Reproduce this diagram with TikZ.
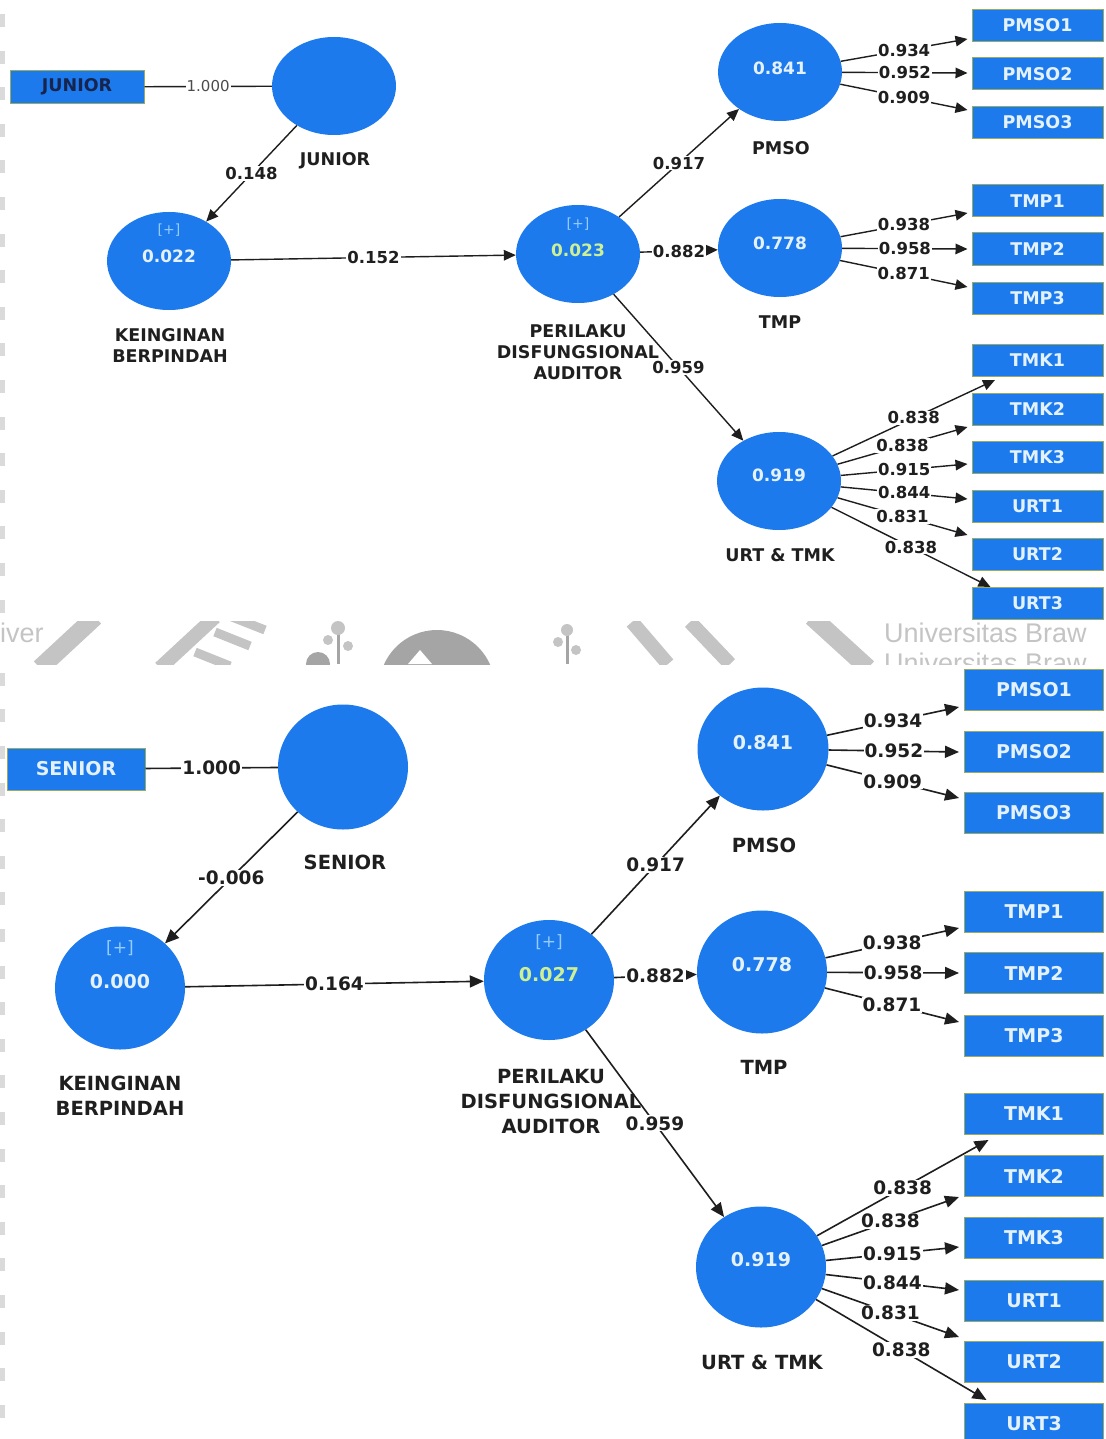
\documentclass[tikz,border=0pt]{standalone}
\usepackage{fontspec}
\setmainfont{DejaVu Sans}
\newfontfamily\wmfont{Liberation Sans}
\usetikzlibrary{shapes.geometric,arrows.meta,calc}

\definecolor{lvblue}{RGB}{28,122,236}
\definecolor{rimgreen}{RGB}{150,172,96}
\definecolor{valwhite}{RGB}{228,241,255}
\definecolor{pluscol}{RGB}{150,205,255}
\definecolor{rsqcol}{RGB}{205,240,150}
\definecolor{navytxt}{RGB}{22,36,78}
\definecolor{inkline}{RGB}{30,30,30}
\definecolor{wmgray}{RGB}{196,196,196}
\definecolor{wmdark}{RGB}{165,165,165}
\definecolor{edgemark}{RGB}{218,218,218}

\tikzset{
  lv/.style={ellipse, fill=lvblue, draw=none, inner sep=0pt},
  lvA/.style={lv, minimum width=124pt, minimum height=98pt},
  lvB/.style={lv, minimum width=130pt, minimum height=123pt},
  ind/.style={rectangle, fill=lvblue, draw=rimgreen, line width=1pt, inner sep=0pt, text=valwhite},
  indA/.style={ind, minimum width=131pt, minimum height=32pt, font=\fontsize{17.5}{17.5}\selectfont\bfseries},
  indB/.style={ind, minimum width=139pt, minimum height=41pt, font=\fontsize{19}{19}\selectfont\bfseries},
  captxt/.style={align=center, text=black!88, inner sep=0pt},
  capA/.style={captxt, font=\fontsize{17.5}{21}\selectfont\bfseries},
  capB/.style={captxt, font=\fontsize{19.5}{25}\selectfont\bfseries},
  link/.style={draw=inkline, line width=1.4pt},
  arrA/.style={link, -{Triangle[length=12pt,width=10.5pt]}},
  arrB/.style={link, line width=1.6pt, -{Triangle[length=14pt,width=12pt]}},
  wA/.style={fill=white, inner sep=1pt, text=black!88, font=\fontsize{16.5}{16.5}\selectfont\bfseries},
  wB/.style={fill=white, inner sep=1pt, text=black!88, font=\fontsize{18.5}{18.5}\selectfont\bfseries},
  valA/.style={text=valwhite, font=\fontsize{17}{17}\selectfont\bfseries},
  valB/.style={text=valwhite, font=\fontsize{19}{19}\selectfont\bfseries},
  plusA/.style={text=pluscol, font=\fontsize{14}{14}\selectfont},
  plusB/.style={text=pluscol, font=\fontsize{17}{17}\selectfont},
  wmtext/.style={text=wmgray, inner sep=0pt, font=\wmfont\fontsize{27}{27}\selectfont},
  wmstroke/.style={draw=wmgray, line width=18pt},
}

\begin{document}
\begin{tikzpicture}[x=1pt, y=-1pt]
\useasboundingbox[fill=white] (0,0) rectangle (1105,1439);

% faint marks along the left edge
\foreach \k in {0,...,38}
  \fill[edgemark] (0,14+36.6*\k) rectangle (5,27+36.6*\k);

% ---------- watermark strip between the two models ----------
\begin{scope}
  \clip (0,621) rectangle (1105,664);
  \fill[white] (0,621) rectangle (1105,664);
  \node[wmtext, anchor=base west] (wmLeft) at (0,642) {iver};
  \draw[wmstroke] (40,668) -- (95,617);
  \draw[wmstroke, line width=14pt] (160,668) -- (215,617);
  \draw[wmstroke, line width=9pt] (195,652) -- (230,666);
  \draw[wmstroke, line width=9pt] (215,632) -- (250,646);
  \draw[wmstroke, line width=9pt] (232,617) -- (265,630);
  \draw[wmdark, line width=3pt] (338,664) -- (338,625);
  \fill[wmgray] (338,628) circle (7pt) (328,640) circle (5pt) (348,646) circle (5pt);
  \fill[wmdark] (318,664) circle (12pt);
  \fill[wmdark] (437,688) circle (58pt);
  \fill[white] (420,650) -- (432,664) -- (408,664) -- cycle;
  \draw[wmdark, line width=3pt] (567,664) -- (567,625);
  \fill[wmgray] (567,630) circle (6pt) (558,642) circle (5pt) (576,650) circle (5pt);
  \draw[wmstroke, line width=14pt] (632,622) -- (668,664);
  \draw[wmstroke, line width=14pt] (690,622) -- (730,664);
  \draw[wmstroke] (812,617) -- (868,668);
  \node[wmtext, anchor=base west] (wmRight) at (884,642) {Universitas Braw};
  \node[wmtext, anchor=base west] (wmRight2) at (884,672) {Universitas Braw};
\end{scope}

% =================== upper model (JUNIOR) ===================
\node[lvA] (jun) at (334,86) {};
\node[indA, text=navytxt, minimum width=134pt, minimum height=33pt] (junI) at (77,87) {JUNIOR};
\node[lvA] (kbA) at (169,261) {};
\node[lvA] (pdaA) at (578,254) {};
\node[lvA] (pmsoA) at (780,72) {};
\node[lvA] (tmpA) at (780,248) {};
\node[lvA] (urtA) at (779,481) {};

\node[plusA] (kbAp) at (169,230) {[+]};
\node[valA] (kbAv) at (169,256) {0.022};
\node[plusA] (pdaAp) at (578,224) {[+]};
\node[valA, text=rsqcol] (pdaAv) at (578,250) {0.023};
\node[valA] (pmsoAv) at (780,68) {0.841};
\node[valA] (tmpAv) at (780,243) {0.778};
\node[valA] (urtAv) at (779,475) {0.919};

\node[capA] (junC) at (335,161) {JUNIOR};
\node[capA] (kbAC) at (170,346) {KEINGINAN\\BERPINDAH};
\node[capA] (pdaAC) at (578,352) {PERILAKU\\DISFUNGSIONAL\\AUDITOR};
\node[capA] (pmsoAC) at (781,148) {PMSO};
\node[capA] (tmpAC) at (780,322) {TMP};
\node[capA] (urtAC) at (780,555) {URT \& TMK};

\foreach \t/\y in {PMSO1/25.5,PMSO2/74,PMSO3/122.5,TMP1/201,TMP2/249,TMP3/298.5,
                   TMK1/360,TMK2/409,TMK3/457.5,URT1/506,URT2/554,URT3/603}
  \node[indA] (a\t) at (1037.5,\y) {\t};

\draw[link] (junI) -- node[fill=white, inner sep=1pt, text=black!70,
  font=\fontsize{15}{15}\selectfont] (lJun) {1.000} (jun);
\draw[arrA] (jun) -- node[wA] (lA148) {0.148} (kbA);
\draw[arrA] (kbA) -- node[wA] (lA152) {0.152} (pdaA);
\draw[arrA] (pdaA) -- node[wA] (lA917) {0.917} (pmsoA);
\draw[arrA] (pdaA) -- node[wA] (lA882) {0.882} (tmpA);
\draw[arrA] (pdaA) -- node[wA] (lA959) {0.959} (urtA);

\draw[arrA] (pmsoA) -- node[wA] (lA1) {0.934} ($(aPMSO1.west)+(-4,13.5)$);
\draw[arrA] (pmsoA) -- node[wA] (lA2) {0.952} ($(aPMSO2.west)+(-4,-1)$);
\draw[arrA] (pmsoA) -- node[wA] (lA3) {0.909} ($(aPMSO3.west)+(-4,-12.5)$);
\draw[arrA] (tmpA) -- node[wA] (lA4) {0.938} ($(aTMP1.west)+(-4,12)$);
\draw[arrA] (tmpA) -- node[wA] (lA5) {0.958} ($(aTMP2.west)+(-4,0)$);
\draw[arrA] (tmpA) -- node[wA] (lA6) {0.871} ($(aTMP3.west)+(-4,-11.5)$);
\draw[arrA] (urtA) -- node[wA] (lA7) {0.838} ($(aTMK1.west)+(23.5,20)$);
\draw[arrA] (urtA) -- node[wA] (lA8) {0.838} ($(aTMK2.west)+(-4,18)$);
\draw[arrA] (urtA) -- node[wA] (lA9) {0.915} ($(aTMK3.west)+(-4,6.5)$);
\draw[arrA] (urtA) -- node[wA] (lA10) {0.844} ($(aURT1.west)+(-4,-7)$);
\draw[arrA] (urtA) -- node[wA] (lA11) {0.831} ($(aURT2.west)+(-4,-19)$);
\draw[arrA] (urtA) -- node[wA] (lA12) {0.838} ($(aURT3.west)+(19,-16)$);

% =================== lower model (SENIOR) ===================
\node[lvB, minimum height=125pt] (sen) at (343,767) {};
\node[indB, minimum width=138pt, minimum height=42pt] (senI) at (76,769) {SENIOR};
\node[lvB] (kbB) at (120,988) {};
\node[lvB, minimum height=120pt] (pdaB) at (549,980) {};
\node[lvB, minimum width=131pt] (pmsoB) at (763,749) {};
\node[lvB] (tmpB) at (762,972) {};
\node[lvB, minimum height=121pt] (urtB) at (761,1267) {};

\node[plusB] (kbBp) at (120,948) {[+]};
\node[valB] (kbBv) at (120,982) {0.000};
\node[plusB] (pdaBp) at (549,942) {[+]};
\node[valB, text=rsqcol] (pdaBv) at (549,975) {0.027};
\node[valB] (pmsoBv) at (763,743) {0.841};
\node[valB] (tmpBv) at (762,965) {0.778};
\node[valB] (urtBv) at (761,1260) {0.919};

\node[capB] (senC) at (345,862) {SENIOR};
\node[capB] (kbBC) at (120,1096) {KEINGINAN\\BERPINDAH};
\node[capB] (pdaBC) at (551,1102) {PERILAKU\\DISFUNGSIONAL\\AUDITOR};
\node[capB] (pmsoBC) at (764,845) {PMSO};
\node[capB] (tmpBC) at (764,1067) {TMP};
\node[capB] (urtBC) at (762,1362) {URT \& TMK};

\foreach \t/\y in {PMSO1/690,PMSO2/752,PMSO3/813,TMP1/912,TMP2/973,TMP3/1036,
                   TMK1/1114,TMK2/1176,TMK3/1238,URT1/1301,URT2/1362,URT3/1424}
  \node[indB] (b\t) at (1034,\y) {\t};

\draw[link, line width=1.6pt] (senI) -- node[wB] (lSen) {1.000} (sen);
\draw[arrB] (sen) -- node[wB] (lB006) {-0.006} (kbB);
\draw[arrB] (kbB) -- node[wB] (lB164) {0.164} (pdaB);
\draw[arrB] (pdaB) -- node[wB] (lB917) {0.917} (pmsoB);
\draw[arrB] (pdaB) -- node[wB] (lB882) {0.882} (tmpB);
\draw[arrB] (pdaB) -- node[wB] (lB959) {0.959} (urtB);

\draw[arrB] (pmsoB) -- node[wB] (lB1) {0.934} ($(bPMSO1.west)+(-5,17)$);
\draw[arrB] (pmsoB) -- node[wB] (lB2) {0.952} ($(bPMSO2.west)+(-5,0)$);
\draw[arrB] (pmsoB) -- node[wB] (lB3) {0.909} ($(bPMSO3.west)+(-5,-15)$);
\draw[arrB] (tmpB) -- node[wB] (lB4) {0.938} ($(bTMP1.west)+(-5,16)$);
\draw[arrB] (tmpB) -- node[wB] (lB5) {0.958} ($(bTMP2.west)+(-5,0)$);
\draw[arrB] (tmpB) -- node[wB] (lB6) {0.871} ($(bTMP3.west)+(-5,-14)$);
\draw[arrB] (urtB) -- node[wB] (lB7) {0.838} ($(bTMK1.west)+(24.5,26)$);
\draw[arrB] (urtB) -- node[wB] (lB8) {0.838} ($(bTMK2.west)+(-5,21)$);
\draw[arrB] (urtB) -- node[wB] (lB9) {0.915} ($(bTMK3.west)+(-5,9)$);
\draw[arrB] (urtB) -- node[wB] (lB10) {0.844} ($(bURT1.west)+(-5,-11)$);
\draw[arrB] (urtB) -- node[wB] (lB11) {0.831} ($(bURT2.west)+(-5,-25)$);
\draw[arrB] (urtB) -- node[wB] (lB12) {0.838} ($(bURT3.west)+(22.5,-24)$);
\end{tikzpicture}
\end{document}
